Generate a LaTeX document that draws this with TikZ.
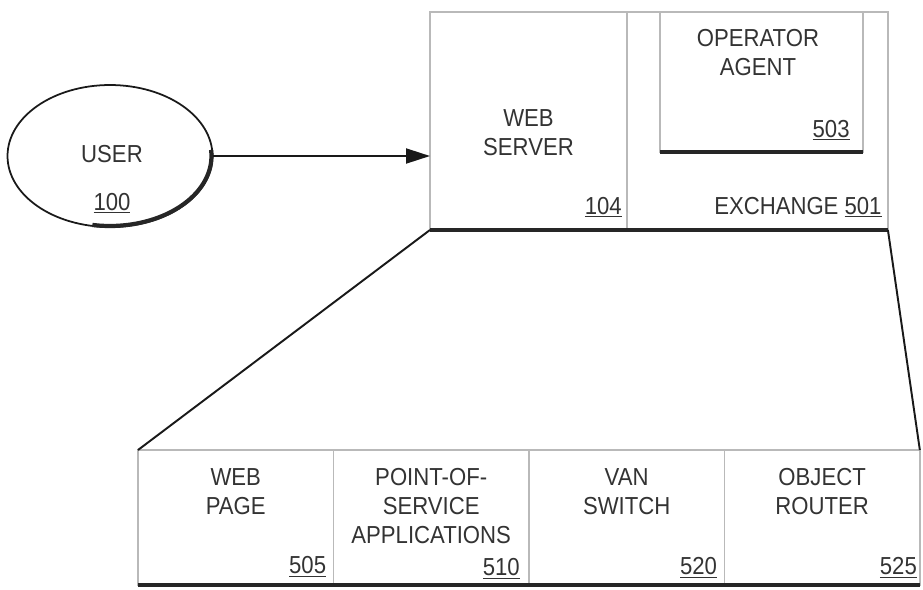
\documentclass[tikz,border=0pt]{standalone}
\usepackage{fontspec}
\setmainfont{Liberation Sans}[FakeStretch=0.9]
\usepackage{xcolor}
\usepackage{tikz}
\usetikzlibrary{shapes.geometric, arrows.meta, positioning}
\definecolor{inkgray}{HTML}{333333}

\begin{document}
\begin{tikzpicture}[
    x=0.02cm, y=-0.02cm,
    font=\fontsize{14}{16.5}\selectfont,
    frame/.style = {rectangle, draw=gray!55, line width=0.9pt, inner sep=0pt, outer sep=0pt, anchor=north west},
    cell/.style = {frame, minimum width=3.91cm, minimum height=2.7cm},
    title/.style = {align=center, text=inkgray, inner sep=0pt, anchor=north},
    refnum/.style = {text=inkgray, inner sep=0pt, anchor=base east},
    base/.style = {line width=2.3pt, black!85},
    wire/.style = {line width=1.1pt, black!90},
    arrow/.style = {line width=1.1pt, black!90, -{Triangle[length=0.48cm, width=0.3cm]}}
]
\useasboundingbox (0,0) rectangle (923,589);

% User
\node (user) [ellipse, draw=black!90, line width=1pt, minimum width=4.1cm, minimum height=2.84cm] at (110,156) {};
\draw [line width=2.4pt, black!85] (user.center) ++(-100:2.03cm and 1.4cm) arc[start angle=-100, end angle=5, x radius=2.03cm, y radius=1.4cm];
\node (usertext) [title, anchor=center] at (112,154) {USER};
\node (usernum) [refnum, anchor=base] at (112,210) {\underline{100}};

% Exchange box with web server and operator agent
\node (exch) [frame, minimum width=9.16cm, minimum height=4.36cm] at (430,12) {};
\node (ws) [frame, minimum width=3.94cm, minimum height=4.36cm] at (430,12) {};
\node (agent) [frame, minimum width=4.06cm, minimum height=2.8cm] at (660,12) {};
\draw [base] (exch.south west) -- (exch.south east);
\draw [base] (agent.south west) -- (agent.south east);

\node (wstext) [title, below=1.94cm of ws.north] {WEB\\SERVER};
\node (wsnum) [refnum] at ([xshift=-2.8pt, yshift=9pt]ws.south east) {\underline{104}};
\node (agenttext) [title, below=0.34cm of agent.north, xshift=-2pt] {OPERATOR\\AGENT};
\node (agentnum) [refnum] at ([xshift=-7.4pt, yshift=8.5pt]agent.south east) {\underline{503}};
\node (exchnum) [refnum] at ([xshift=-3.4pt, yshift=9pt]exch.south east) {EXCHANGE \underline{501}};

% Bottom row
\node (page) [cell] at (138,450) {};
\node (pos) [cell, right=0pt of page] {};
\node (van) [cell, right=0pt of pos] {};
\node (router) [cell, right=0pt of van] {};
\draw [base] (page.south west) -- (router.south east);

\node (pagetext) [title, below=0.36cm of page.north] {WEB\\PAGE};
\node (postext) [title, below=0.36cm of pos.north] {POINT-OF-\\SERVICE\\APPLICATIONS};
\node (vantext) [title, below=0.36cm of van.north] {VAN\\SWITCH};
\node (routertext) [title, below=0.36cm of router.north] {OBJECT\\ROUTER};
\node (pagenum) [refnum] at ([xshift=-4pt, yshift=6.5pt]page.south east) {\underline{505}};
\node (posnum) [refnum] at ([xshift=-5pt, yshift=5.5pt]pos.south east) {\underline{510}};
\node (vannum) [refnum] at ([xshift=-4pt, yshift=6pt]van.south east) {\underline{520}};
\node (routernum) [refnum] at ([xshift=-1.5pt, yshift=6pt]router.south east) {\underline{525}};

% Connectors
\draw [arrow] (user.east) -- (user.east -| exch.west);
\draw [wire] (exch.south west) -- (page.north west);
\draw [wire] (exch.south east) -- (router.north east);

\end{tikzpicture}
\end{document}
